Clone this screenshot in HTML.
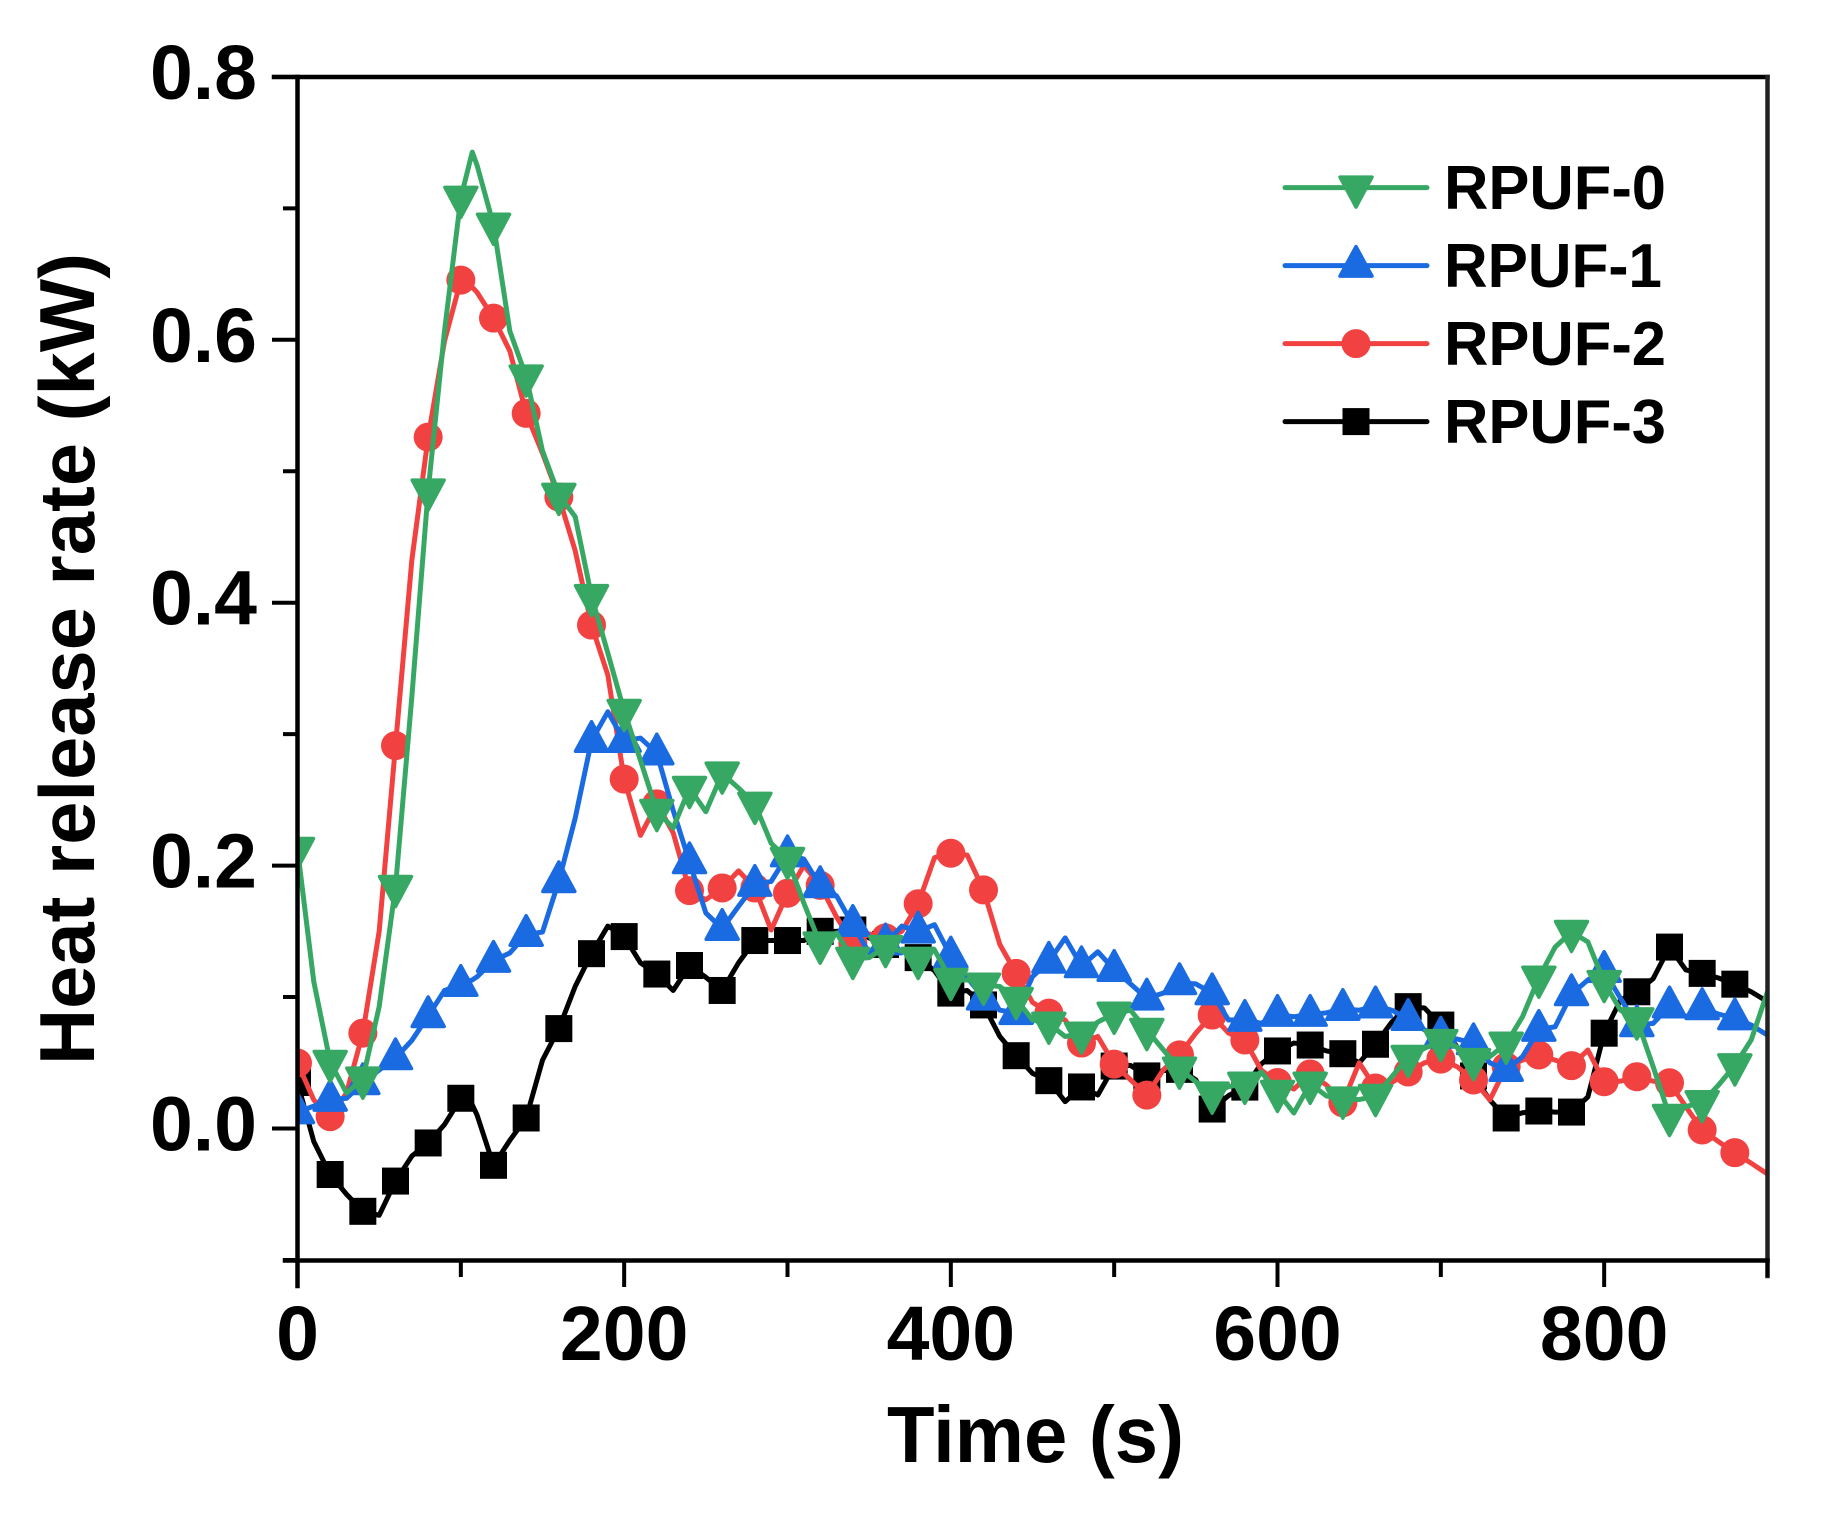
<!DOCTYPE html>
<html lang="en">
<head>
<meta charset="utf-8">
<title>Heat release rate chart</title>
<style>
html,body{margin:0;padding:0;background:#fff;}
svg{display:block;}
text{font-family:"Liberation Sans",Arial,sans-serif;font-weight:bold;fill:#000;}
</style>
</head>
<body>
<svg id="chart" xmlns="http://www.w3.org/2000/svg" width="1822" height="1528" viewBox="0 0 1822 1528">
  <defs><clipPath id="plot-clip"><rect x="297.5" y="77" width="1470" height="1183.5"/></clipPath></defs>
  <rect x="0" y="0" width="1822" height="1528" fill="#fff"/>
  <g id="series-layer" clip-path="url(#plot-clip)"></g>
  <g id="axis-layer"></g>
  <text x="887" y="1462" font-size="80" textLength="297" lengthAdjust="spacingAndGlyphs">Time (s)</text>
  <text transform="translate(94,1065) rotate(-90)" x="0" y="0" font-size="78" textLength="812" lengthAdjust="spacingAndGlyphs">Heat release rate (kW)</text>
  <g id="legend-layer"></g>
</svg>
<script>
const times = [0,10,20,30,40,50,60,70,80,90,100,107,110,120,130,140,150,160,170,180,190,200,210,220,230,240,250,260,270,280,290,300,310,320,330,340,350,360,370,380,390,400,410,420,430,440,450,460,470,480,490,500,510,520,530,540,550,560,570,580,590,600,610,620,630,640,650,660,670,680,690,700,710,720,730,740,750,760,770,780,790,800,810,820,830,840,850,860,870,880,890,900];
const rpuf0 = [.2126,.1115,.0506,.027,.0379,.0927,.1837,.3283,.4853,.6066,.708,.7428,.7325,.6875,.6066,.572,.5155,.482,.4655,.405,.3617,.3176,.28,.2415,.2286,.259,.241,.27,.259,.247,.217,.205,.1715,.1406,.1487,.129,.13,.138,.135,.129,.1358,.113,.113,.1094,.108,.0985,.0825,.0797,.07,.0721,.081,.0873,.09,.0749,.06,.0455,.0356,.0265,.0318,.034,.043,.0278,.0118,.034,.0247,.0227,.022,.0247,.0394,.0544,.061,.0665,.062,.052,.0546,.0645,.085,.1147,.138,.1495,.142,.1114,.09,.083,.047,.0095,.0166,.02,.033,.048,.0673,.104];
const rpuf1 = [.0125,.017,.022,.023,.0346,.0445,.0536,.067,.0856,.105,.1094,.113,.1155,.1277,.1335,.1474,.1495,.1883,.236,.295,.317,.295,.297,.2855,.242,.2027,.164,.152,.169,.1855,.188,.208,.205,.1845,.177,.155,.1335,.141,.154,.15,.155,.131,.115,.099,.09,.088,.1155,.127,.145,.1236,.1345,.1208,.11,.099,.103,.1107,.11,.103,.0825,.0828,.08,.0866,.085,.0866,.088,.0911,.09,.093,.09,.0835,.075,.07,.068,.065,.05,.0447,.0546,.0752,.0774,.1023,.113,.12,.099,.0787,.08,.093,.085,.0917,.087,.084,.0787,.071];
const rpuf2 = [.0498,.0217,.009,.027,.0726,.15,.2913,.4324,.526,.599,.6454,.64,.636,.6165,.5915,.544,.5137,.4804,.4396,.383,.345,.2658,.223,.247,.225,.181,.174,.183,.196,.183,.151,.179,.2,.185,.161,.141,.148,.145,.15,.171,.206,.2094,.208,.1815,.14,.118,.096,.0878,.0825,.065,.07,.049,.037,.0254,.0445,.056,.0726,.0863,.0726,.0673,.0445,.035,.03,.0415,.033,.0196,.05,.0308,.035,.043,.05,.0528,.047,.0369,.0217,.047,.052,.0559,.052,.0478,.0597,.0356,.036,.0394,.036,.0348,.0166,-.0011,-.01,-.0184,-.0264,-.0346];
const rpuf3 = [.035,-.01,-.035,-.05,-.063,-.066,-.04,-.021,-.011,.003,.023,.018,.01,-.028,-.009,.008,.052,.076,.108,.133,.154,.146,.126,.1175,.105,.124,.115,.105,.126,.143,.143,.143,.143,.15,.15,.151,.145,.14,.135,.13,.12,.103,.105,.094,.07,.0554,.042,.0364,.0204,.0316,.0255,.0475,.048,.04,.044,.045,.037,.0148,.025,.0315,.049,.059,.065,.0635,.059,.0569,.05,.0641,.081,.0927,.0917,.0787,.062,.04,.0217,.008,.012,.0133,.0125,.0125,.024,.0725,.0978,.104,.114,.138,.1206,.118,.1145,.1098,.104,.0965];
const xTickLabels = [0,200,400,600,800];
const xMinorTicks = [100,300,500,700,900];
const yTickLabels = [0.8,0.6,0.4,0.2,0.0];
const yMinorTicks = [0.7,0.5,0.3,0.1,-0.1];
const seriesNames = ['RPUF-3','RPUF-2','RPUF-1','RPUF-0'];
const legendOrder = ['RPUF-0','RPUF-1','RPUF-2','RPUF-3'];

const NS = 'http://www.w3.org/2000/svg';
const left = 297.5, right = 1767.5, top_ = 77, bottom = 1260.5;
function xScale(t){ return left + (t - 0) * (right - left) / 900; }
function yScale(v){ return 1128.5 - v * 1314.5; }

const styles = {
  'RPUF-0': {color:'#37a864', shape:'down', values:rpuf0},
  'RPUF-1': {color:'#1a6ae2', shape:'up', values:rpuf1},
  'RPUF-2': {color:'#f24141', shape:'circle', values:rpuf2},
  'RPUF-3': {color:'#000000', shape:'square', values:rpuf3}
};

function make(tag, attrs){
  const el = document.createElementNS(NS, tag);
  for (const k in attrs) el.setAttribute(k, attrs[k]);
  return el;
}
function marker(shape, color, x, y){
  if (shape === 'circle') return make('circle', {cx:x, cy:y, r:14.5, fill:color});
  if (shape === 'square') return make('rect', {x:x-13.5, y:y-13.5, width:27, height:27, fill:color});
  const pts = shape === 'up'
    ? [[x,y-19],[x+16,y+10.5],[x-16,y+10.5]]
    : [[x,y+19.5],[x+16,y-10.5],[x-16,y-10.5]];
  return make('polygon', {points:pts.map(p => p.join(',')).join(' '), fill:color, stroke:color, 'stroke-width':3.5, 'stroke-linejoin':'round'});
}

const seriesLayer = document.getElementById('series-layer');
seriesNames.forEach(function(name){
  const s = styles[name];
  const group = make('g', {});
  
  
  const pts = times.map((t, i) => xScale(t).toFixed(2) + ',' + yScale(s.values[i]).toFixed(2)).join(' ');
  const line = make('polyline', {points:pts, fill:'none', stroke:s.color, 'stroke-width':5, 'stroke-linejoin':'round', 'stroke-linecap':'round'});
  
  
  group.appendChild(line);
  times.forEach(function(t, i){
    if (t % 20 !== 0 || t >= 900) return;
    const m = marker(s.shape, s.color, xScale(t), yScale(s.values[i]));
    
    
    group.appendChild(m);
  });
  seriesLayer.appendChild(group);
});

const axisLayer = document.getElementById('axis-layer');
function axisLine(x1, y1, x2, y2, w, name, color){
  const l = make('line', {x1:x1, y1:y1, x2:x2, y2:y2, stroke:color || '#000', 'stroke-width':w, 'stroke-linecap':'square'});
  
  
  axisLayer.appendChild(l);
}
axisLine(274, top_, right, top_, 4.5, 'top-axis-line');
axisLine(right, top_, right, 1276, 4.5, 'right-axis-line', '#222');
axisLine(left, top_, left, 1286, 4.5, 'y-axis-line');
axisLine(285, bottom, right, bottom, 4.5, 'x-axis-line');
yTickLabels.forEach(function(v){
  axisLine(274, yScale(v), left, yScale(v), 4, 'y-major-tick');
  const t = make('text', {x:257, y:yScale(v) + 22, 'font-size':77, 'text-anchor':'end'});
  t.textContent = v.toFixed(1);
  
  
  axisLayer.appendChild(t);
});
yMinorTicks.forEach(function(v){
  axisLine(285, yScale(v), left, yScale(v), 4, 'y-minor-tick');
});
xTickLabels.forEach(function(v){
  axisLine(xScale(v), bottom, xScale(v), 1285, 4, 'x-major-tick');
  const t = make('text', {x:xScale(v), y:1360, 'font-size':77, 'text-anchor':'middle'});
  t.textContent = String(v);
  
  
  axisLayer.appendChild(t);
});
xMinorTicks.forEach(function(v){
  axisLine(xScale(v), bottom, xScale(v), 1275, 4, 'x-minor-tick');
});

const legendLayer = document.getElementById('legend-layer');
legendOrder.forEach(function(name, i){
  const s = styles[name];
  const y = 187.6 + i * 78;
  const g = make('g', {});
  
  
  g.appendChild(make('line', {x1:1285, y1:y, x2:1427, y2:y, stroke:s.color, 'stroke-width':5, 'stroke-linecap':'round'}));
  g.appendChild(marker(s.shape, s.color, 1356, y));
  const t = make('text', {x:1444, y:y + 21.5, 'font-size':62, textLength:name === 'RPUF-1' ? 218 : 222, lengthAdjust:'spacingAndGlyphs'});
  t.textContent = name;
  g.appendChild(t);
  legendLayer.appendChild(g);
});
</script>
</body>
</html>
